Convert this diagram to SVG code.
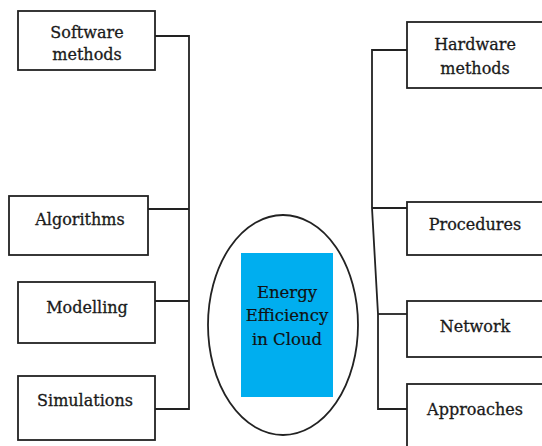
<svg xmlns="http://www.w3.org/2000/svg" width="542" height="446" viewBox="0 0 542 446">
<style>
.box{fill:#fff;stroke:#222;stroke-width:1.8}
.lbl{font-family:"DejaVu Serif","Liberation Serif",serif;font-size:16px;fill:#1a1a1a;stroke:#1a1a1a;stroke-width:0.3;text-anchor:middle}
.ctr{font-family:"DejaVu Serif","Liberation Serif",serif;font-size:16.5px;fill:#111;stroke:#111;stroke-width:0.2;text-anchor:middle}
.conn{fill:none;stroke:#222;stroke-width:1.8}
</style>
<rect width="542" height="446" fill="#fff"/>
<g id="connectors">
<polyline class="conn" points="155,36 189,36 189,409 155,409"/>
<line class="conn" x1="148" y1="209" x2="189" y2="209"/>
<line class="conn" x1="155" y1="301" x2="189" y2="301"/>
<polyline class="conn" points="407,50 372,50 372,208 378,314 378,409 407,409"/>
<line class="conn" x1="372" y1="208" x2="407" y2="208"/>
<line class="conn" x1="378" y1="314" x2="407" y2="314"/>
</g>
<g id="software">
<rect class="box" x="18" y="11" width="137" height="59"/>
<text class="lbl" x="87" y="38">Software</text>
<text class="lbl" x="87" y="60">methods</text>
</g>
<g id="algorithms">
<rect class="box" x="9" y="196" width="139" height="59"/>
<text class="lbl" x="80" y="225">Algorithms</text>
</g>
<g id="modelling">
<rect class="box" x="18" y="282" width="137" height="61"/>
<text class="lbl" x="87" y="313">Modelling</text>
</g>
<g id="simulations">
<rect class="box" x="18" y="376" width="137" height="64"/>
<text class="lbl" x="85" y="406">Simulations</text>
</g>
<g id="hardware">
<rect class="box" x="407" y="22" width="145" height="66"/>
<text class="lbl" x="475" y="50">Hardware</text>
<text class="lbl" x="475" y="74">methods</text>
</g>
<g id="procedures">
<rect class="box" x="407" y="202" width="145" height="53"/>
<text class="lbl" x="475" y="230">Procedures</text>
</g>
<g id="network">
<rect class="box" x="407" y="301" width="145" height="56"/>
<text class="lbl" x="475" y="332">Network</text>
</g>
<g id="approaches">
<rect class="box" x="407" y="384" width="145" height="70"/>
<text class="lbl" x="475" y="415">Approaches</text>
</g>
<g id="center">
<ellipse cx="283" cy="325" rx="75" ry="110" fill="#fff" stroke="#222" stroke-width="1.8"/>
<rect x="241" y="253" width="92" height="144" fill="#00AEEF"/>
<text class="ctr" x="287" y="298">Energy</text>
<text class="ctr" x="287" y="321">Efficiency</text>
<text class="ctr" x="287" y="345">in Cloud</text>
</g>
</svg>
